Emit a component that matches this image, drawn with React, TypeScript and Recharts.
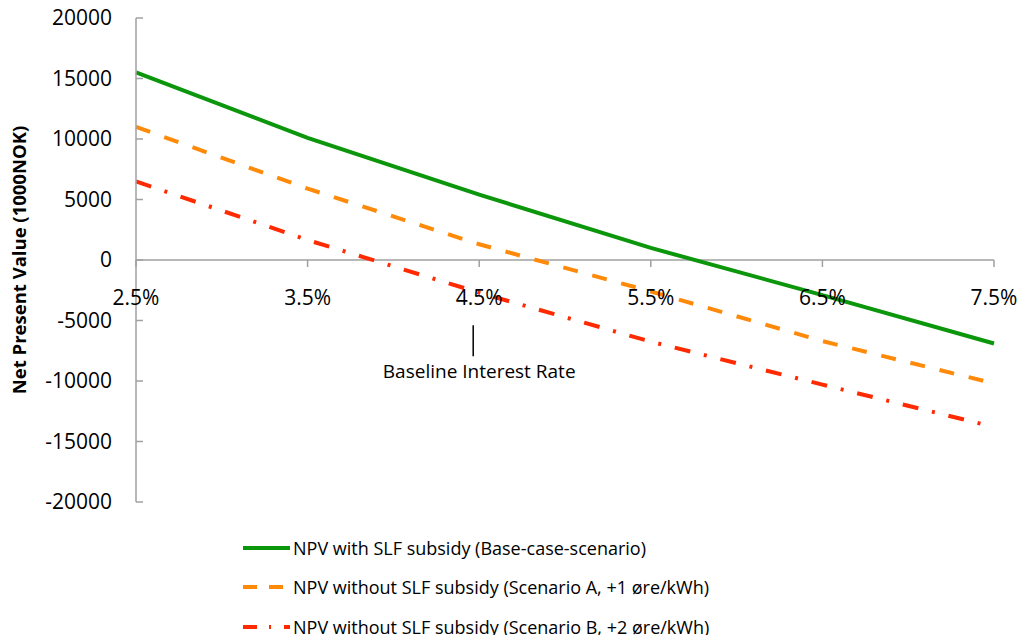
import { LineChart, Line, XAxis, YAxis, ReferenceLine, ReferenceDot, Legend } from "recharts";

const rates = ["2.5%", "3.5%", "4.5%", "5.5%", "6.5%", "7.5%"];
const npvBase = [15500, 10100, 5400, 1000, -2900, -6900];
const npvScenarioA = [11000, 5900, 1300, -2600, -6700, -10200];
const npvScenarioB = [6500, 1650, -2700, -6750, -10300, -13800];
const yTicks = [-20000, -15000, -10000, -5000, 0, 5000, 10000, 15000, 20000];

const seriesNames = [
  "NPV with SLF subsidy (Base-case-scenario)",
  "NPV without SLF subsidy (Scenario A, +1 øre/kWh)",
  "NPV without SLF subsidy (Scenario B, +2 øre/kWh)",
];

const FONT = "'Open Sans', sans-serif";
const AXIS_GRAY = "#A0A0A0";
const ROW_H = 39.5;

const series = [
  { key: "base", name: seriesNames[0], color: "#0C960C", dash: undefined, legendDash: undefined },
  { key: "a", name: seriesNames[1], color: "#FF8A0A", dash: "15 15", legendDash: "14 12" },
  { key: "b", name: seriesNames[2], color: "#FF2A00", dash: "16 14 3 14", legendDash: "14 12 2 13" },
];

const data = rates.map((rate, i) => ({
  rate,
  base: npvBase[i],
  a: npvScenarioA[i],
  b: npvScenarioB[i],
}));

function LegendBox() {
  return (
    <div style={{ fontFamily: FONT, fontSize: 18, color: "#000" }}>
      {series.map((s) => (
        <div key={s.key} style={{ display: "flex", alignItems: "center", height: ROW_H }}>
          <svg width={49} height={10} style={{ marginRight: 1 }}>
            <line x1={0} y1={5} x2={47} y2={5} stroke={s.color} strokeWidth={4} strokeDasharray={s.legendDash} />
          </svg>
          <span style={{ whiteSpace: "nowrap" }}>{s.name}</span>
        </div>
      ))}
    </div>
  );
}

const BaselineMarker = (props: any) => {
  const { cx, cy } = props;
  return (
    <g>
      <line x1={cx - 6} y1={cy} x2={cx - 6} y2={cy + 31} stroke="#000" strokeWidth={1.5} />
      <text x={cx} y={cy + 53} textAnchor="middle" fontSize={19} fill="#000" fontFamily={FONT}>
        Baseline Interest Rate
      </text>
    </g>
  );
};

const rateTick = (label: string) => (props: any) => {
  const { cx, cy } = props;
  return (
    <g>
      <line x1={cx} y1={cy} x2={cx} y2={cy + 7} stroke={AXIS_GRAY} strokeWidth={1.5} />
      <text x={cx} y={cy + 45} textAnchor="middle" fontSize={21} fill="#000" fontFamily={FONT}>
        {label}
      </text>
    </g>
  );
};

export default function App() {
  return (
    <div style={{ width: 1012, height: 627, background: "#fff", fontFamily: FONT }}>
      <LineChart
        width={1012}
        height={627}
        data={data}
        margin={{ top: 10, right: 26, left: 0, bottom: 133 - 3 * ROW_H }}
      >
        <XAxis dataKey="rate" hide />
        <YAxis
          domain={[-20000, 20000]}
          ticks={yTicks}
          width={128}
          interval={0}
          allowDataOverflow
          axisLine={{ stroke: AXIS_GRAY, strokeWidth: 1.5 }}
          tickLine={{ stroke: AXIS_GRAY, strokeWidth: 1.5 }}
          tickSize={-7}
          tickMargin={31}
          tick={{ fontSize: 21, fill: "#000", fontFamily: FONT }}
          label={{
            value: "Net Present Value (1000NOK)",
            angle: -90,
            position: "center",
            dx: -53,
            style: { fontSize: 18.5, fontWeight: "bold", fill: "#000", fontFamily: FONT },
          }}
        />
        <ReferenceLine y={0} stroke={AXIS_GRAY} strokeWidth={1.5} />
        {rates.map((r) => (
          <ReferenceDot key={r} x={r} y={0} r={0} shape={rateTick(r)} ifOverflow="visible" />
        ))}
        <ReferenceDot x="4.5%" y={-5400} r={0} shape={BaselineMarker} ifOverflow="visible" />
        {series.map((s) => (
          <Line
            key={s.key}
            type="linear"
            dataKey={s.key}
            name={s.name}
            stroke={s.color}
            strokeWidth={4}
            strokeDasharray={s.dash}
            dot={false}
            activeDot={false}
            isAnimationActive={false}
          />
        ))}
        <Legend
          content={<LegendBox />}
          height={3 * ROW_H}
          wrapperStyle={{ left: 235, top: 520, width: 640, bottom: "auto" }}
        />
      </LineChart>
    </div>
  );
}
